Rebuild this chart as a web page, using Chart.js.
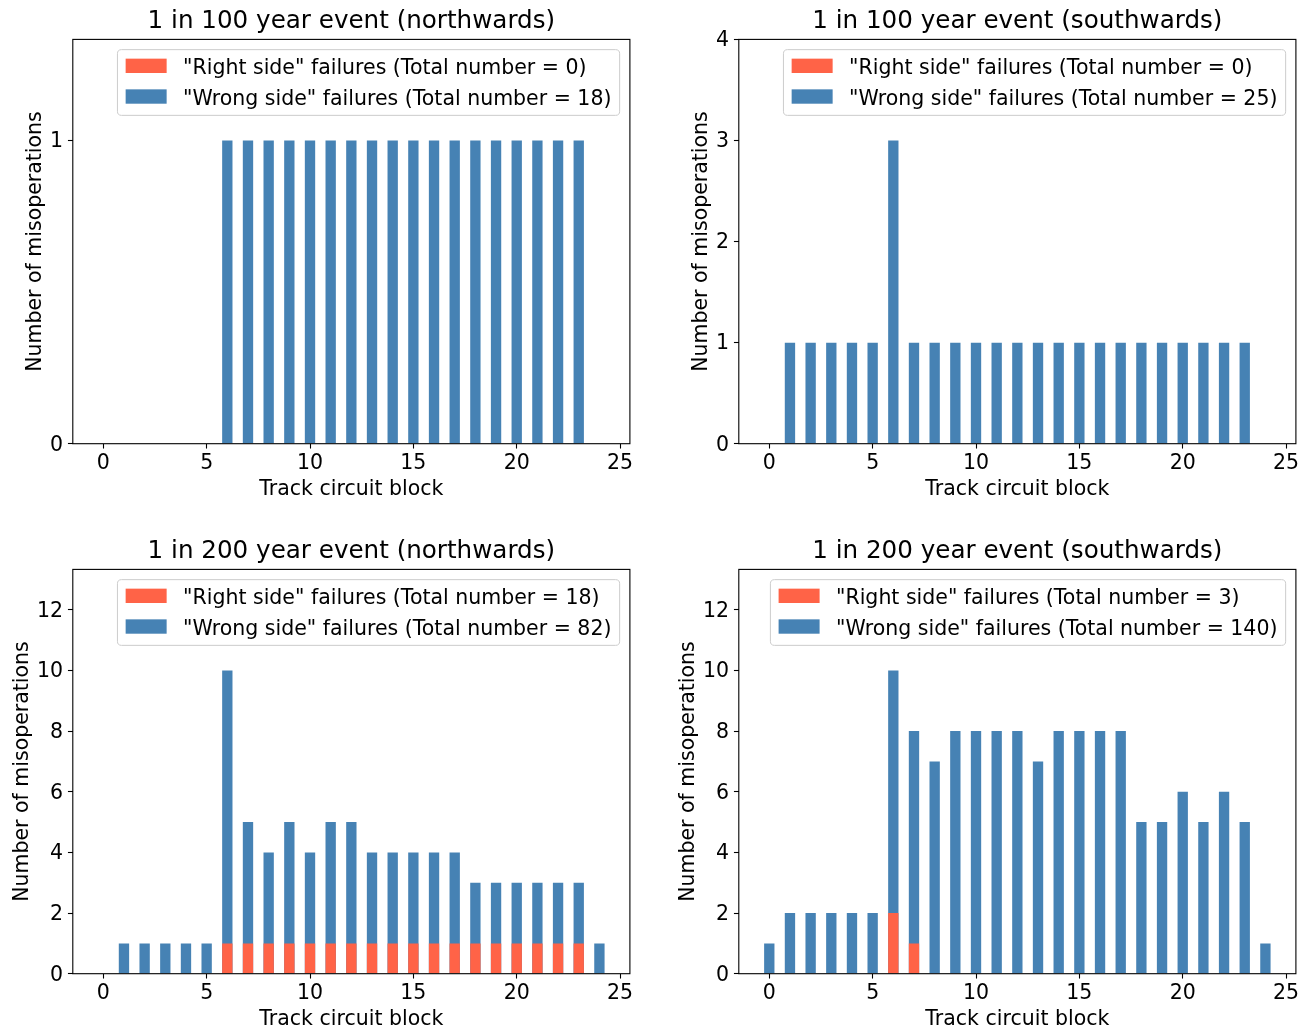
<!DOCTYPE html>
<html>
<head>
<meta charset="utf-8">
<title>Track circuit misoperations</title>
<script src="https://cdn.jsdelivr.net/npm/chart.js@4/dist/chart.umd.min.js"></script>
<style>
  html, body { margin: 0; padding: 0; background: #ffffff; overflow: hidden; }
  #fig { position: relative; width: 1311px; height: 1028px; overflow: hidden; }
  #fig canvas { position: absolute; }
</style>
</head>
<body>
<div id="fig">
  <canvas id="north100" width="644" height="512" style="left:0px;top:0px;width:644px;height:512px"></canvas>
  <canvas id="south100" width="644" height="512" style="left:666px;top:0px;width:644px;height:512px"></canvas>
  <canvas id="north200" width="644" height="512" style="left:0px;top:530px;width:644px;height:512px"></canvas>
  <canvas id="south200" width="644" height="512" style="left:666px;top:530px;width:644px;height:512px"></canvas>
</div>
<script>
// Track circuit blocks along the route
const blocks = [0, 1, 2, 3, 4, 5, 6, 7, 8, 9, 10, 11, 12, 13, 14, 15, 16, 17, 18, 19, 20, 21, 22, 23, 24];
const xTicks = [0, 5, 10, 15, 20, 25];

// Misoperation counts per block
const rightNorth100 = [0, 0, 0, 0, 0, 0, 0, 0, 0, 0, 0, 0, 0, 0, 0, 0, 0, 0, 0, 0, 0, 0, 0, 0, 0];
const wrongNorth100 = [0, 0, 0, 0, 0, 0, 1, 1, 1, 1, 1, 1, 1, 1, 1, 1, 1, 1, 1, 1, 1, 1, 1, 1, 0];

const rightSouth100 = [0, 0, 0, 0, 0, 0, 0, 0, 0, 0, 0, 0, 0, 0, 0, 0, 0, 0, 0, 0, 0, 0, 0, 0, 0];
const wrongSouth100 = [0, 1, 1, 1, 1, 1, 3, 1, 1, 1, 1, 1, 1, 1, 1, 1, 1, 1, 1, 1, 1, 1, 1, 1, 0];

const rightNorth200 = [0, 0, 0, 0, 0, 0, 1, 1, 1, 1, 1, 1, 1, 1, 1, 1, 1, 1, 1, 1, 1, 1, 1, 1, 0];
const wrongNorth200 = [0, 1, 1, 1, 1, 1, 10, 5, 4, 5, 4, 5, 5, 4, 4, 4, 4, 4, 3, 3, 3, 3, 3, 3, 1];

const rightSouth200 = [0, 0, 0, 0, 0, 0, 2, 1, 0, 0, 0, 0, 0, 0, 0, 0, 0, 0, 0, 0, 0, 0, 0, 0, 0];
const wrongSouth200 = [1, 2, 2, 2, 2, 2, 10, 8, 7, 8, 8, 8, 8, 7, 8, 8, 8, 8, 5, 5, 6, 5, 6, 5, 1];

// Y tick labels per panel
const yTicksNorth100 = [0, 1];
const yTicksSouth100 = [0, 1, 2, 3, 4];
const yTicks200 = [0, 2, 4, 6, 8, 10, 12];

const RIGHT_COLOR = '#FF6347';
const WRONG_COLOR = '#4682B4';

// Panel geometry (canvas-local pixels)
const W = 644, H = 512;
const AX_L = 72.8, AX_R = 629.9, AX_T = 39.4, AX_B = 443.7;
const FS = 20.5;           // base text size
const TITLE_FS = 24.6;     // panel title size
const FAMILY = '"DejaVu Sans", "Liberation Sans", sans-serif';
const TICK_LEN = 4.86;
const DIGIT_W = 0.636 * FS;

Chart.defaults.font.family = FAMILY;
Chart.defaults.font.size = FS;
Chart.defaults.color = '#000000';

const total = arr => arr.reduce((s, v) => s + v, 0);

// Box around the plotting area
const axesFrame = {
  id: 'axesFrame',
  afterDatasetsDraw(chart) {
    const { ctx, chartArea: a } = chart;
    ctx.save();
    ctx.strokeStyle = '#000000';
    ctx.lineWidth = 1.1;
    ctx.strokeRect(a.left, a.top, a.right - a.left, a.bottom - a.top);
    ctx.restore();
  }
};

// Framed legend in the upper right corner of the plotting area
const boxLegend = {
  id: 'boxLegend',
  afterDraw(chart) {
    const { ctx, chartArea } = chart;
    const items = chart.data.datasets.map(d => ({ text: d.label, color: d.backgroundColor }));
    ctx.save();
    ctx.font = `${FS}px ${FAMILY}`;
    const textW = Math.max(...items.map(it => ctx.measureText(it.text).width));
    const pad = 0.4 * FS, handleW = 2 * FS, handleH = 0.7 * FS, gap = 0.8 * FS;
    const rowStep = 30.7;
    const w = pad + handleW + gap + textW + pad;
    const h = 65.7;
    const right = chartArea.right - 0.5 * FS;
    const left = right - w;
    const top = chartArea.top + 0.5 * FS;
    ctx.beginPath();
    ctx.roundRect(left, top, w, h, 0.2 * FS);
    ctx.fillStyle = 'rgba(255,255,255,0.8)';
    ctx.fill();
    ctx.strokeStyle = '#cccccc';
    ctx.lineWidth = 1;
    ctx.stroke();
    items.forEach((it, i) => {
      ctx.fillStyle = it.color;
      ctx.fillRect(left + pad, top + 9 + i * rowStep, handleW, handleH);
      ctx.fillStyle = '#000000';
      ctx.textBaseline = 'alphabetic';
      ctx.textAlign = 'left';
      ctx.fillText(it.text, left + pad + handleW + gap, top + 24.7 + i * rowStep);
    });
    ctx.restore();
  }
};

function points(values) {
  return blocks.map((b, i) => ({ x: b, y: values[i] }));
}

function makePanel(canvasId, title, rightVals, wrongVals, yTicks) {
  const yMax = Math.max(...wrongVals) * 4 / 3;
  // the axis label sits further out when tick labels are wider
  const widestTick = Math.max(...yTicks.map(v => String(v).length));
  const yTitlePad = 23.3 - (widestTick - 1) * DIGIT_W;
  const tickGrid = {
    offset: false,
    drawOnChartArea: false,
    drawTicks: true,
    tickLength: TICK_LEN,
    tickWidth: 1.1,
    tickColor: '#000000',
    color: '#000000'
  };
  return new Chart(document.getElementById(canvasId), {
    type: 'bar',
    data: {
      datasets: [
        {
          label: `"Right side" failures (Total number = ${total(rightVals)})`,
          data: points(rightVals),
          backgroundColor: RIGHT_COLOR
        },
        {
          label: `"Wrong side" failures (Total number = ${total(wrongVals)})`,
          data: points(wrongVals),
          backgroundColor: WRONG_COLOR
        }
      ]
    },
    options: {
      responsive: false,
      animation: false,
      devicePixelRatio: 1,
      events: [],
      datasets: {
        bar: { grouped: false, categoryPercentage: 1.0, barPercentage: 0.5, borderWidth: 0, inflateAmount: 0 }
      },
      layout: { padding: { left: 0, top: 0, right: W - AX_R, bottom: 0 } },
      plugins: {
        legend: { display: false },
        tooltip: { enabled: false },
        title: {
          display: true,
          text: title,
          color: '#000000',
          fullSize: false,
          font: { family: FAMILY, size: TITLE_FS, weight: 'normal', lineHeight: 1.2 },
          padding: { top: 7.2, bottom: AX_T - 7.2 - TITLE_FS * 1.2 }
        }
      },
      scales: {
        x: {
          type: 'linear',
          min: -1.475,
          max: 25.475,
          offset: false,
          grid: tickGrid,
          border: { display: false },
          ticks: {
            padding: 2.5,
            color: '#000000',
            font: { size: FS },
            autoSkip: false,
            maxRotation: 0,
            minRotation: 0,
            callback: v => String(v)
          },
          afterBuildTicks: s => { s.ticks = xTicks.map(v => ({ value: v })); },
          afterFit: s => { s.height = H - AX_B; },
          title: {
            display: true,
            text: 'Track circuit block',
            color: '#000000',
            font: { size: FS, lineHeight: 1.2 },
            padding: { top: 0, bottom: 9.8 }
          }
        },
        y: {
          type: 'linear',
          min: 0,
          max: yMax,
          grid: tickGrid,
          border: { display: false },
          ticks: {
            padding: TICK_LEN,
            labelOffset: 1.5,
            color: '#000000',
            font: { size: FS },
            callback: v => String(v)
          },
          afterBuildTicks: s => { s.ticks = yTicks.map(v => ({ value: v })); },
          afterFit: s => { s.width = AX_L; },
          title: {
            display: true,
            text: 'Number of misoperations',
            color: '#000000',
            font: { size: FS, lineHeight: 1.2 },
            padding: { top: yTitlePad, bottom: 0 }
          }
        }
      }
    },
    plugins: [axesFrame, boxLegend]
  });
}

makePanel('north100', '1 in 100 year event (northwards)', rightNorth100, wrongNorth100, yTicksNorth100);
makePanel('south100', '1 in 100 year event (southwards)', rightSouth100, wrongSouth100, yTicksSouth100);
makePanel('north200', '1 in 200 year event (northwards)', rightNorth200, wrongNorth200, yTicks200);
makePanel('south200', '1 in 200 year event (southwards)', rightSouth200, wrongSouth200, yTicks200);
</script>
</body>
</html>
